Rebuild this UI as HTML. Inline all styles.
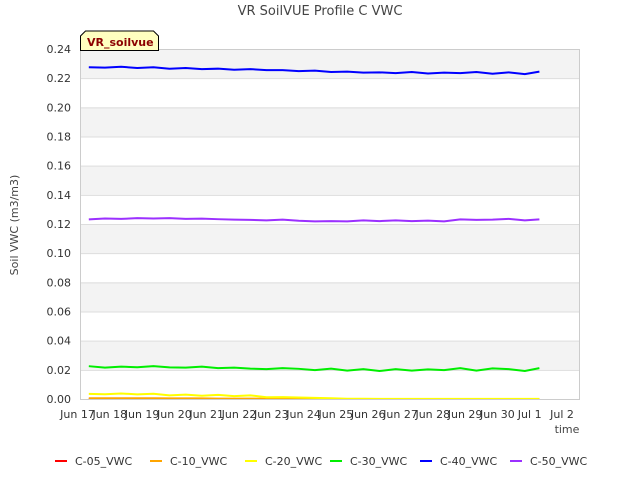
<!DOCTYPE html>
<html><head><meta charset="utf-8"><style>
body{margin:0;background:#fff;font-family:"Liberation Sans","DejaVu Sans",sans-serif}
</style></head><body>
<svg id="c" width="640" height="480" viewBox="0 0 640 480" font-family="DejaVu Sans, Liberation Sans, sans-serif">
<text x="320" y="15" text-anchor="middle" font-size="13" fill="#444">VR SoilVUE Profile C VWC</text>
<g id="bands"></g><g id="grid"></g><g id="ticks"></g><g id="series"></g>
<rect x="80.5" y="49.5" width="499" height="350" fill="none" stroke="#ccc"/>
<text transform="translate(18,225) rotate(-90)" text-anchor="middle" font-size="11" fill="#444">Soil VWC (m3/m3)</text>
<text x="567" y="433" text-anchor="middle" font-size="11" fill="#444">time</text>
<g>
<path d="M80.5,50.5 V36 l5,-5 h68 l5,5 V50.5 Z" fill="#ffffc0" stroke="#000"/>
<text x="87" y="46" font-size="11" font-weight="bold" fill="#8b0000">VR_soilvue</text></g>
<g id="legend"></g>
</svg>
<script>
const yTicks=[0,0.02,0.04,0.06,0.08,0.10,0.12,0.14,0.16,0.18,0.20,0.22,0.24];
const xTickDays=[17,18,19,20,21,22,23,24,25,26,27,28,29,30,31,32];
const xTickLabels=["Jun 17","Jun 18","Jun 19","Jun 20","Jun 21","Jun 22","Jun 23","Jun 24","Jun 25","Jun 26","Jun 27","Jun 28","Jun 29","Jun 30","Jul 1","Jul 2"];
const times=[17.35,17.85,18.35,18.85,19.35,19.85,20.35,20.85,21.35,21.85,22.35,22.85,23.35,23.85,24.35,24.85,25.35,25.85,26.35,26.85,27.35,27.85,28.35,28.85,29.35,29.85,30.35,30.85,31.3];
const c05=[0,0,0,0,0,0,0,0,0,0,0,0,0,0,0,0,0,0,0,0,0,0,0,0,0,0,0,0,0];
const c10=[0.0005,0.0005,0.0005,0.0005,0.0005,0.0004,0.0004,0.0004,0.0003,0.0003,0.0003,0.0002,0.0002,0.0001,0.0001,0,0,0,0,0,0,0,0,0,0,0,0,0,0];
const c20=[0.0035,0.0033,0.0038,0.0032,0.0036,0.0025,0.003,0.0022,0.0028,0.002,0.0025,0.0012,0.0013,0.001,0.0008,0.0005,0.0002,0.0002,0.0001,0.0001,0.0001,0.0001,0.0001,0.0001,0.0001,0.0001,0.0001,0.0001,0.0001];
const c30=[0.0225,0.0215,0.0222,0.0218,0.0225,0.0217,0.0215,0.0222,0.0212,0.0215,0.0208,0.0205,0.0212,0.0207,0.0198,0.0208,0.0195,0.0205,0.0192,0.0205,0.0195,0.0203,0.0198,0.0212,0.0195,0.021,0.0205,0.0192,0.0212];
const c40=[0.2275,0.2272,0.2278,0.2270,0.2275,0.2265,0.2270,0.2262,0.2265,0.2258,0.2262,0.2255,0.2255,0.2248,0.2252,0.2242,0.2245,0.2238,0.2240,0.2235,0.2242,0.2232,0.2238,0.2235,0.2242,0.2230,0.2240,0.2228,0.2245];
const c50=[0.1232,0.1238,0.1235,0.1240,0.1238,0.1240,0.1235,0.1237,0.1233,0.1230,0.1228,0.1225,0.1230,0.1222,0.1218,0.1220,0.1218,0.1225,0.1220,0.1225,0.1220,0.1223,0.1218,0.1232,0.1228,0.1230,0.1235,0.1225,0.1232];
const seriesNames=["C-05_VWC","C-10_VWC","C-20_VWC","C-30_VWC","C-40_VWC","C-50_VWC"];
const seriesColors=["#ff0000","#ffa500","#ffff00","#00ee00","#0000ff","#9b30ff"];
const seriesData=[c05,c10,c20,c30,c40,c50];
const NS="http://www.w3.org/2000/svg";
const X=d=>77.5+(d-17)*32.3, Y=v=>399-v*1458.33;
function mk(t,a,p){const e=document.createElementNS(NS,t);for(const k in a)e.setAttribute(k,a[k]);p.appendChild(e);return e;}
const bands=document.getElementById('bands'),grid=document.getElementById('grid'),ticks=document.getElementById('ticks');
for(let i=1;i<yTicks.length;i+=2){const r=mk('rect',{x:80,y:Y(yTicks[i+1]),width:500,height:Y(yTicks[i])-Y(yTicks[i+1]),fill:'#f3f3f3'},bands);

}
yTicks.forEach(v=>{const l=mk('line',{x1:80,x2:580,y1:Y(v)+.5,y2:Y(v)+.5,stroke:'#ddd'},grid);


const t=mk('text',{x:71,y:Y(v)+4,'text-anchor':'end','font-size':11,fill:'#333'},ticks);t.textContent=v.toFixed(2);

});
xTickDays.forEach((d,i)=>{const t=mk('text',{x:X(d),y:418,'text-anchor':'middle','font-size':11,fill:'#333'},ticks);t.textContent=xTickLabels[i];

});
const sg=document.getElementById('series'),lg=document.getElementById('legend');
const lx=[55,150,245,330,420,510];
seriesData.forEach((s,k)=>{const p=mk('polyline',{points:s.map((v,i)=>X(times[i])+','+Y(v)).join(' '),fill:'none',stroke:seriesColors[k],'stroke-width':2},sg);


const g=mk('g',{},lg);


mk('line',{x1:lx[k],x2:lx[k]+12,y1:461,y2:461,stroke:seriesColors[k],'stroke-width':2},g);
const t=mk('text',{x:lx[k]+20,y:465,'font-size':11,fill:'#333'},g);t.textContent=seriesNames[k];});
</script>
</body></html>
